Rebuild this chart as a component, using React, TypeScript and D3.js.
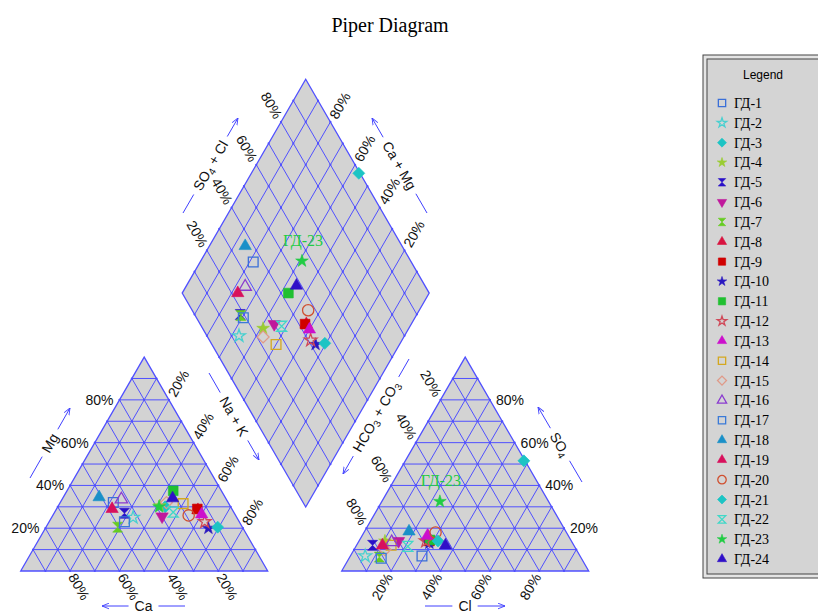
import { useEffect, useRef } from "react"
import * as d3 from "d3"

// samples and their compositions in %
const sampleNames = [
  "ГД-1", "ГД-2", "ГД-3", "ГД-4", "ГД-5", "ГД-6", "ГД-7", "ГД-8",
  "ГД-9", "ГД-10", "ГД-11", "ГД-12", "ГД-13", "ГД-14", "ГД-15", "ГД-16",
  "ГД-17", "ГД-18", "ГД-19", "ГД-20", "ГД-21", "ГД-22", "ГД-23", "ГД-24",
]
const caPct = [46.5, 42, 26.5, 28.5, 44.5, 30, 50.5, 14, 14, 14, 19.5, 14, 13.5, 18.5, 25, 42.5, 46.5, 51, 48.5, 19, 10, 24.5, 29, 21.5]
const mgPct = [32, 25, 30, 30.5, 27, 25.5, 20.5, 28.5, 29, 20, 37.5, 23, 26.5, 31.5, 32, 33.5, 23, 34.5, 29, 26, 20.5, 27.5, 30, 34]
const clPct = [29, 6, 48, 10.5, 6.5, 16, 12, 27, 28.5, 29, 28.5, 27, 26.5, 14, 12.5, 13.5, 13, 18, 10.5, 29, 32, 21, 23.5, 36]
const so4Pct = [7, 7, 51.5, 14, 12, 14, 6.5, 16, 14, 13, 14.5, 14, 16.5, 12, 10, 13.5, 6, 18.5, 12, 18, 14, 11.5, 32.5, 12]

const markerShapes = [
  "square", "star", "diamond", "star", "hourglass", "triangleDown", "hourglass", "triangle",
  "square", "star", "square", "star", "triangle", "square", "diamond", "triangle",
  "square", "triangle", "triangle", "circle", "diamond", "hourglass", "star", "triangle",
]
const markerColors = [
  "#3a6fd8", "#48d0d0", "#1cc4c4", "#9acd32", "#2a10c8", "#c0189c", "#66cc22", "#d81440",
  "#d00000", "#2a18c0", "#20c030", "#d04858", "#cc10cc", "#d4a820", "#e09a88", "#8a3ad0",
  "#3a7ad8", "#1a90c8", "#d8105c", "#d05030", "#1cc4c4", "#40d8c8", "#22cc44", "#3010c8",
]
const markerFilled = [
  false, false, true, true, true, true, true, true,
  true, true, true, false, true, false, false, false,
  false, true, true, false, true, false, true, true,
]
const labelledSample = "ГД-23"

const percentTicks = [20, 40, 60, 80]
const gridPct = d3.range(10, 100, 10)

const W = 818
const H = 613
const SIDE = 247
const TRI_H = (SIDE * Math.sqrt(3)) / 2
const GRID = "#5050ff"
const FILL = "#d3d3d3"
const SANS = "'Liberation Sans', Arial, sans-serif"
const SERIF = "'Liberation Serif', 'Times New Roman', serif"

type Pt = [number, number]

const along = d3.scaleLinear().domain([0, 100]).range([0, SIDE])
const rise = d3.scaleLinear().domain([0, 100]).range([0, TRI_H])

const leftOrigin: Pt = [20.7, 571]
const rightOrigin: Pt = [341.7, 571]
const diamondBottom: Pt = [305.7, 507]

// ternary point: "right" grows toward the bottom-right corner, "top" toward the apex
const tern = (o: Pt, right: number, top: number): Pt => [o[0] + along(right) + along(top) / 2, o[1] - rise(top)]
// diamond point: a = Ca+Mg, b = SO4+Cl
const diam = (a: number, b: number): Pt => [
  diamondBottom[0] + (along(b) - along(a)) / 2,
  diamondBottom[1] - rise(a) - rise(b),
]

const naPct = caPct.map((ca, i) => 100 - ca - mgPct[i])

const symbolSizes: Record<string, [d3.SymbolType, number]> = {
  square: [d3.symbolSquare, 95],
  diamond: [d3.symbolSquare, 72],
  star: [d3.symbolStar, 50],
  triangle: [d3.symbolTriangle, 66],
  triangleDown: [d3.symbolTriangle, 66],
  circle: [d3.symbolCircle, 100],
}

const symbolFor = (shape: string, k: number) => {
  if (shape === "hourglass") {
    const r = 5 * k
    return `M${-r},${-r}L${r},${-r}L${-r},${r}L${r},${r}Z`
  }
  const [t, s] = symbolSizes[shape]
  return d3.symbol(t, s * k * k)() as string
}
const rotationFor = (shape: string) => (shape === "diamond" ? 45 : shape === "triangleDown" ? 180 : 0)

const SUB = "sub"
const axisTitles = [
  { parts: [["Ca"]], from: [185, 606], to: [102, 606] },
  { parts: [["Mg"]], from: [30, 478], to: [70, 408] },
  { parts: [["Na + K"]], from: [209, 373], to: [259, 460] },
  { parts: [["Cl"]], from: [425, 606], to: [505, 606] },
  { parts: [["SO"], ["4", SUB]], from: [582, 482], to: [538, 407] },
  { parts: [["HCO"], ["3", SUB], [" + CO"], ["3", SUB]], from: [409, 359], to: [343, 474] },
  { parts: [["SO"], ["4", SUB], [" + Cl"]], from: [183, 213], to: [238, 118] },
  { parts: [["Ca + Mg"]], from: [427, 213], to: [372, 118] },
]

const App = () => {
  const svgRef = useRef<SVGSVGElement>(null)

  useEffect(() => {
    const svg = d3.select(svgRef.current)
    svg.selectAll("*").remove()

    const defs = svg.append("defs")
    defs
      .append("marker")
      .attr("id", "arrowHead")
      .attr("viewBox", "0 0 10 10")
      .attr("refX", 10)
      .attr("refY", 5)
      .attr("markerWidth", 7)
      .attr("markerHeight", 7)
      .attr("markerUnits", "userSpaceOnUse")
      .attr("orient", "auto")
      .append("path")
      .attr("d", "M0,1L10,5L0,9")
      .attr("fill", "none")
      .attr("stroke", "#4040ff")
      .attr("stroke-width", 1.3)

    // title
    svg
      .append("text")
      .attr("x", 390)
      .attr("y", 32)
      .attr("text-anchor", "middle")
      .attr("font-family", SERIF)
      .attr("font-size", 20)
      .text("Piper Diagram")

    const line = (g: any, p: Pt, q: Pt, w = 1) =>
      g
        .append("line")
        .attr("x1", p[0])
        .attr("y1", p[1])
        .attr("x2", q[0])
        .attr("y2", q[1])
        .attr("stroke", GRID)
        .attr("stroke-width", w)

    const dot = (g: any, p: Pt) => g.append("circle").attr("cx", p[0]).attr("cy", p[1]).attr("r", 1.1).attr("fill", GRID)

    // ternary triangles
    const drawTriangle = (o: Pt) => {
      const g = svg.append("g")
      const corners = [tern(o, 0, 0), tern(o, 100, 0), tern(o, 0, 100)]
      g.append("polygon").attr("points", corners.map((c) => c.join(",")).join(" ")).attr("fill", FILL)
      gridPct.forEach((v) => {
        line(g, tern(o, 0, v), tern(o, 100 - v, v))
        line(g, tern(o, v, 0), tern(o, v, 100 - v))
        line(g, tern(o, 100 - v, 0), tern(o, 0, 100 - v))
      })
      d3.range(0, 101, 10).forEach((r) =>
        d3.range(0, 101 - r, 10).forEach((t) => {
          if ((r === 0 && t === 0) || r === 100 || t === 100) return
          dot(g, tern(o, r, t))
        })
      )
      g.append("polygon")
        .attr("points", corners.map((c) => c.join(",")).join(" "))
        .attr("fill", "none")
        .attr("stroke", GRID)
        .attr("stroke-width", 1.3)
      return g
    }
    drawTriangle(leftOrigin)
    drawTriangle(rightOrigin)

    // diamond
    const dg = svg.append("g")
    const dCorners = [diam(0, 0), diam(100, 0), diam(100, 100), diam(0, 100)]
    dg.append("polygon").attr("points", dCorners.map((c) => c.join(",")).join(" ")).attr("fill", FILL)
    gridPct.forEach((v) => {
      line(dg, diam(v, 0), diam(v, 100))
      line(dg, diam(0, v), diam(100, v))
    })
    d3.range(0, 101, 10).forEach((a) =>
      d3.range(0, 101, 10).forEach((b) => {
        if ((a === 0 || a === 100) && (b === 0 || b === 100)) return
        dot(dg, diam(a, b))
      })
    )
    dg.append("polygon")
      .attr("points", dCorners.map((c) => c.join(",")).join(" "))
      .attr("fill", "none")
      .attr("stroke", GRID)
      .attr("stroke-width", 1.3)

    // percent labels
    const label = (p: Pt, angle: number, dx: number, anchor: string, txt: string) =>
      svg
        .append("text")
        .attr("transform", `translate(${p[0]},${p[1]}) rotate(${angle})`)
        .attr("x", dx)
        .attr("text-anchor", anchor)
        .attr("dominant-baseline", "central")
        .attr("font-family", SANS)
        .attr("font-size", 14)
        .attr("fill", "#111")
        .text(txt)

    percentTicks.forEach((v) => {
      const t = `${v}%`
      // left triangle: Mg (left edge), Na+K (right edge), Ca (base)
      label(tern(leftOrigin, 0, v), 0, -6, "end", t)
      label(tern(leftOrigin, v, 100 - v), -60, 5, "start", t)
      label(tern(leftOrigin, 100 - v, 0), 60, 4, "start", t)
      // right triangle: SO4 (right edge), HCO3+CO3 (left edge), Cl (base)
      label(tern(rightOrigin, 100 - v, v), 0, 6, "start", t)
      label(tern(rightOrigin, 0, 100 - v), 60, -5, "end", t)
      label(tern(rightOrigin, v, 0), -60, -4, "end", t)
      // diamond: SO4+Cl (upper left), Ca+Mg (upper right)
      label(diam(100, v), 60, -5, "end", t)
      label(diam(v, 100), -60, 5, "start", t)
    })

    // axis titles with arrows
    axisTitles.forEach(({ parts, from, to }) => {
      const dx = to[0] - from[0]
      const dy = to[1] - from[1]
      const len = Math.hypot(dx, dy)
      const ux = dx / len
      const uy = dy / len
      let ang = (Math.atan2(dy, dx) * 180) / Math.PI
      if (ang > 90) ang -= 180
      if (ang < -90) ang += 180
      const mx = (from[0] + to[0]) / 2
      const my = (from[1] + to[1]) / 2
      const text = svg
        .append("text")
        .attr("transform", `translate(${mx},${my}) rotate(${ang})`)
        .attr("text-anchor", "middle")
        .attr("dominant-baseline", "central")
        .attr("font-family", SANS)
        .attr("font-size", 14)
        .attr("fill", "#111")
      let shifted = false
      parts.forEach(([s, kind]) => {
        const ts = text.append("tspan").text(s)
        if (kind === SUB && !shifted) {
          ts.attr("dy", 4).attr("font-size", 10)
          shifted = true
        } else if (kind === SUB) {
          ts.attr("font-size", 10)
        } else if (shifted) {
          ts.attr("dy", -4)
          shifted = false
        }
      })
      const tw = (text.node() as SVGTextElement).getComputedTextLength()
      const gap = tw / 2 + 6
      svg
        .append("line")
        .attr("x1", from[0])
        .attr("y1", from[1])
        .attr("x2", mx - ux * gap)
        .attr("y2", my - uy * gap)
        .attr("stroke", "#4040ff")
        .attr("stroke-width", 1)
      svg
        .append("line")
        .attr("x1", mx + ux * gap)
        .attr("y1", my + uy * gap)
        .attr("x2", to[0])
        .attr("y2", to[1])
        .attr("stroke", "#4040ff")
        .attr("stroke-width", 1)
        .attr("marker-end", "url(#arrowHead)")
    })

    // sample markers
    const drawMarker = (g: any, p: Pt, i: number, k: number) =>
      g
        .append("path")
        .attr("d", symbolFor(markerShapes[i], k))
        .attr("transform", `translate(${p[0]},${p[1]}) rotate(${rotationFor(markerShapes[i])})`)
        .attr("fill", markerFilled[i] ? markerColors[i] : "none")
        .attr("stroke", markerColors[i])
        .attr("stroke-width", markerFilled[i] ? 0.6 : 1.3)

    const mg = svg.append("g")
    sampleNames.forEach((name, i) => {
      const pl = tern(leftOrigin, naPct[i], mgPct[i])
      const pr = tern(rightOrigin, clPct[i], so4Pct[i])
      const pd = diam(caPct[i] + mgPct[i], so4Pct[i] + clPct[i])
      drawMarker(mg, pl, i, 1)
      drawMarker(mg, pr, i, 1)
      drawMarker(mg, pd, i, 1)
      if (name === labelledSample) {
        ;[pr, pd].forEach((p) =>
          mg
            .append("text")
            .attr("x", p[0] + 1)
            .attr("y", p[1] - 15)
            .attr("text-anchor", "middle")
            .attr("font-family", SERIF)
            .attr("font-size", 16)
            .attr("fill", markerColors[i])
            .text(name)
        )
      }
    })

    // legend
    const lg = svg.append("g")
    lg.append("rect").attr("x", 703).attr("y", 55).attr("width", 140).attr("height", 523)
      .attr("fill", "#e4e4e4").attr("stroke", "#444").attr("stroke-width", 1)
    lg.append("rect").attr("x", 707).attr("y", 59).attr("width", 132).attr("height", 515)
      .attr("fill", "#d4d4d4").attr("stroke", "#444").attr("stroke-width", 1)
    lg.append("text")
      .attr("x", 763)
      .attr("y", 79)
      .attr("text-anchor", "middle")
      .attr("font-family", SANS)
      .attr("font-size", 12)
      .text("Legend")
    const rowY = d3.scaleLinear().domain([0, sampleNames.length - 1]).range([103, 559])
    sampleNames.forEach((name, i) => {
      drawMarker(lg, [722, rowY(i)], i, 0.75)
      lg.append("text")
        .attr("x", 734)
        .attr("y", rowY(i) + 5)
        .attr("font-family", SERIF)
        .attr("font-size", 14)
        .text(name)
    })
  }, [])

  return (
    <svg
      ref={svgRef}
      width={W}
      height={H}
      style={{ position: "absolute", left: 0, top: 0, background: "#fff" }}
    />
  )
}

export default App
